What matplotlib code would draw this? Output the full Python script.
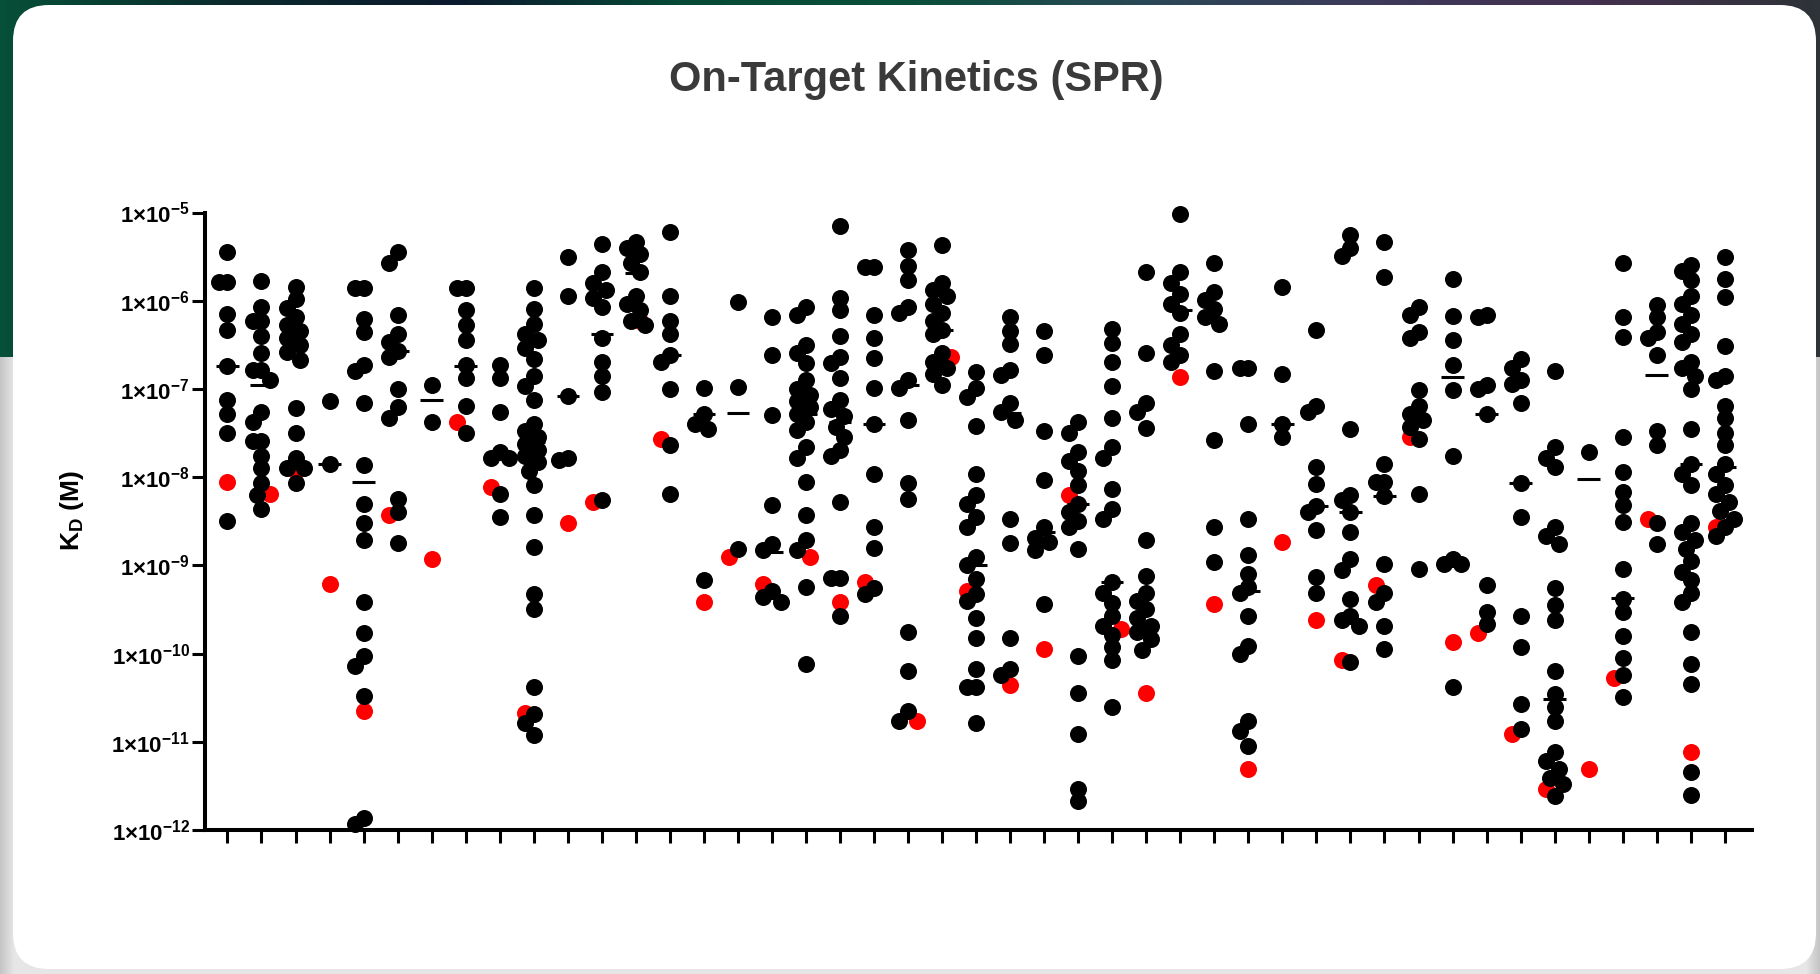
#!/usr/bin/env python3

from __future__ import annotations

import matplotlib

matplotlib.use("Agg")
import matplotlib.pyplot as plt
import numpy as np
from matplotlib.colors import LinearSegmentedColormap
from matplotlib.patches import FancyBboxPatch, Rectangle
from matplotlib.ticker import FixedLocator, FuncFormatter, NullLocator

TITLE = "On-Target Kinetics (SPR)"
Y_LABEL = r"K$_{\mathregular{D}}$ (M)"
Y_DECADES = list(range(-12, -4))

# log10(KD / M) for every compound column (black = test set)
BLACK_LOG_KD = [
    [-5.45, -5.79, -5.79, -6.15, -6.33, -6.74, -7.12, -7.28, -7.50, -8.50],
    [-5.78, -6.07, -6.23, -6.23, -6.40, -6.59, -6.78, -6.78, -6.90, -7.26, -7.38, -7.59, -7.59,
     -7.76, -7.90, -8.07, -8.20, -8.36],
    [-5.84, -5.98, -6.08, -6.19, -6.28, -6.34, -6.42, -6.50, -6.58, -6.67, -7.22, -7.50, -7.78,
     -7.90, -7.90, -8.07],
    [-7.14, -7.85],
    [-5.86, -5.86, -6.21, -6.35, -6.73, -6.80, -7.16, -7.86, -8.31, -8.52, -8.71, -9.41, -9.77,
     -10.03, -10.14, -10.48, -11.86, -11.93],
    [-5.45, -5.57, -6.16, -6.38, -6.47, -6.57, -6.64, -7.00, -7.21, -7.33, -8.25, -8.39, -8.75],
    [-6.95, -7.38],
    [-5.86, -5.86, -6.11, -6.28, -6.45, -6.73, -6.88, -7.19, -7.50],
    [-6.73, -6.88, -7.26, -7.71, -7.78, -7.78, -8.19, -8.45],
    [-5.86, -6.09, -6.26, -6.38, -6.45, -6.54, -6.66, -6.85, -6.97, -7.12, -7.40, -7.48, -7.55,
     -7.62, -7.69, -7.76, -7.83, -7.93, -8.09, -8.43, -8.79, -9.32, -9.49, -10.38, -10.69,
     -10.79, -10.92],
    [-5.51, -5.95, -7.08, -7.78, -7.80],
    [-5.36, -5.68, -5.80, -5.88, -5.97, -6.07, -6.42, -6.69, -6.85, -7.04, -8.26],
    [-5.33, -5.40, -5.47, -5.57, -5.68, -5.95, -6.04, -6.11, -6.23, -6.28],
    [-5.22, -5.95, -6.23, -6.38, -6.61, -6.69, -7.00, -7.64, -8.19],
    [-6.99, -7.28, -7.40, -7.45, -9.17],
    [-6.01, -6.98, -8.81],
    [-6.19, -6.61, -7.29, -8.32, -8.76, -8.83, -9.29, -9.36, -9.41],
    [-6.07, -6.16, -6.50, -6.59, -6.71, -6.90, -7.00, -7.07, -7.14, -7.21, -7.28, -7.38, -7.47,
     -7.66, -7.78, -8.05, -8.43, -8.71, -8.83, -9.25, -10.12],
    [-5.15, -5.97, -6.11, -6.40, -6.64, -6.71, -6.88, -7.12, -7.23, -7.31, -7.43, -7.54, -7.69,
     -7.76, -8.28, -9.14, -9.14, -9.57],
    [-5.62, -5.62, -6.16, -6.42, -6.65, -6.99, -7.40, -7.97, -8.56, -8.80, -9.26, -9.32],
    [-5.42, -5.61, -5.76, -6.07, -6.14, -6.90, -6.99, -7.35, -8.07, -8.25, -9.75, -10.20, -10.65,
     -10.77],
    [-5.37, -5.80, -5.88, -5.95, -6.04, -6.14, -6.23, -6.33, -6.38, -6.59, -6.69, -6.76, -6.83,
     -6.95],
    [-6.81, -6.99, -7.09, -7.42, -7.96, -8.20, -8.31, -8.45, -8.57, -8.91, -9.00, -9.15, -9.33,
     -9.40, -9.60, -9.82, -10.18, -10.38, -10.38, -10.79],
    [-6.18, -6.34, -6.49, -6.78, -6.84, -7.16, -7.26, -7.35, -8.48, -8.75, -9.82, -10.17, -10.24],
    [-6.34, -6.61, -7.48, -8.03, -8.57, -8.69, -8.74, -8.83, -9.44],
    [-7.38, -7.50, -7.72, -7.82, -7.93, -8.09, -8.31, -8.40, -8.50, -8.57, -8.82, -10.03, -10.45,
     -10.91, -11.53, -11.67],
    [-6.32, -6.48, -6.69, -6.97, -7.33, -7.66, -7.78, -8.14, -8.36, -8.48, -9.19, -9.31, -9.43,
     -9.57, -9.69, -9.79, -9.93, -10.07, -10.60],
    [-5.67, -6.59, -7.16, -7.26, -7.44, -8.71, -9.12, -9.31, -9.40, -9.50, -9.60, -9.69, -9.76,
     -9.84, -9.96],
    [-5.02, -5.68, -5.80, -5.92, -6.04, -6.14, -6.38, -6.50, -6.61, -6.69],
    [-5.57, -5.90, -5.99, -6.09, -6.19, -6.26, -6.80, -7.58, -8.56, -8.96],
    [-6.76, -6.76, -7.40, -8.47, -8.88, -9.10, -9.24, -9.31, -9.57, -9.91, -10.00, -10.77, -10.88,
     -11.05],
    [-5.84, -6.83, -7.40, -7.54],
    [-6.33, -7.19, -7.26, -7.89, -8.08, -8.33, -8.40, -8.60, -9.13, -9.31],
    [-5.26, -5.40, -5.49, -7.45, -8.20, -8.26, -8.39, -8.62, -8.93, -9.05, -9.38, -9.57, -9.62,
     -9.69, -10.10],
    [-5.33, -5.73, -7.85, -8.05, -8.05, -8.21, -8.98, -9.31, -9.42, -9.69, -9.95],
    [-6.07, -6.16, -6.35, -6.42, -7.01, -7.19, -7.28, -7.35, -7.43, -7.57, -8.19, -9.04],
    [-5.75, -6.17, -6.44, -6.73, -7.01, -7.76, -8.93, -8.98, -8.98, -10.38],
    [-6.16, -6.19, -6.95, -7.00, -7.28, -9.22, -9.53, -9.67],
    [-6.66, -6.76, -6.90, -6.94, -7.16, -8.07, -8.45, -9.57, -9.93, -10.57, -10.86],
    [-6.80, -7.66, -7.78, -7.89, -8.57, -8.67, -8.76, -9.26, -9.45, -9.62, -10.20, -10.46, -10.60,
     -10.77, -11.12, -11.22, -11.31, -11.41, -11.48, -11.62],
    [-7.72],
    [-5.57, -6.19, -6.41, -7.55, -7.94, -8.17, -8.32, -8.51, -9.04, -9.38, -9.53, -9.80, -10.05,
     -10.24, -10.49],
    [-6.05, -6.19, -6.35, -6.42, -6.61, -7.48, -7.64, -8.52, -8.76],
    [-5.59, -5.66, -5.76, -5.95, -6.04, -6.16, -6.26, -6.38, -6.47, -6.69, -6.76, -6.85, -7.00,
     -7.45, -7.85, -7.97, -8.09, -8.52, -8.62, -8.71, -8.81, -8.95, -9.07, -9.17, -9.31, -9.41,
     -9.76, -10.12, -10.34, -11.34, -11.60],
    [-5.51, -5.75, -5.96, -6.51, -6.85, -6.90, -7.19, -7.33, -7.50, -7.64, -7.85, -7.97, -8.09,
     -8.19, -8.28, -8.38, -8.47, -8.57, -8.67],
]

# one red reference point per column
RED_LOG_KD = [
    -8.06, -8.19, -7.93, -9.21, -10.65, -8.43, -8.93, -7.38, -8.11, -10.67,
    -8.52, -8.28, -6.23, -7.57, -9.41, -8.90, -9.21, -8.91, -9.42, -9.19,
    -10.77, -6.64, -9.29, -10.36, -9.95, -8.20, -9.72, -10.45, -6.86, -9.44,
    -11.31, -8.74, -9.62, -10.07, -9.22, -7.54, -9.87, -9.77, -10.91, -11.53,
    -11.31, -10.28, -8.48, -11.12, -8.56,
]

# median bar per column
MEDIAN_LOG_KD = [
    -6.74, -6.95, -6.50, -7.85, -8.06, -6.57, -7.12, -6.74, -7.72, -7.60,
    -7.08, -6.38, -5.69, -6.61, -7.28, -7.27, -8.85, -7.28, -7.38, -7.40,
    -6.95, -6.33, -9.00, -7.27, -8.62, -8.31, -9.19, -9.67, -6.11, -6.22,
    -9.29, -7.40, -8.33, -8.39, -8.21, -7.33, -6.87, -7.28, -8.07, -10.51,
    -8.02, -9.37, -6.84, -7.85, -7.89,
]

DOT_SIZE = 150
DOT_X = 0.5      # dot diameter in column units
DOT_Y = 0.193    # dot diameter in decades


def swarm_offsets(values, placed, step=0.13, min_gap=0.72):
    offsets = []
    for value in values:
        best, best_gap = 0.0, -1.0
        for k in (0, -1, 1, -2, 2):
            dx = k * step
            gap = min(
                (np.hypot((dx - px) / DOT_X, (value - py) / DOT_Y) for px, py in placed),
                default=np.inf,
            )
            if gap >= min_gap:
                best = dx
                break
            if gap > best_gap:
                best, best_gap = dx, gap
        placed.append((best, value))
        offsets.append(best)
    return offsets


plt.rcParams["font.family"] = ["Liberation Sans", "DejaVu Sans"]
plt.rcParams["mathtext.fontset"] = "custom"
plt.rcParams["mathtext.rm"] = "Liberation Sans:bold"
plt.rcParams["mathtext.it"] = "Liberation Sans:bold"
plt.rcParams["mathtext.bf"] = "Liberation Sans:bold"

fig = plt.figure(figsize=(18.2, 9.74), dpi=100)

# page background and white card
bg = fig.add_axes([0, 0, 1, 1])
bg.set_axis_off()
bg.set_xlim(0, 1820)
bg.set_ylim(974, 0)
band = LinearSegmentedColormap.from_list(
    "band",
    ["#064f38", "#0b2a2c", "#0c1a2e", "#064a36", "#0a4f3a", "#2a4856", "#3c3a5a", "#45304f", "#2e3338"],
)
bg.imshow(np.linspace(0, 1, 256)[None, :], cmap=band, aspect="auto", extent=[0, 1820, 357, 0], zorder=0)
shade = LinearSegmentedColormap.from_list("shade", ["#c4c4c4", "#e6e6e6"])
bg.imshow(np.linspace(0, 1, 64)[None, :], cmap=shade, aspect="auto", extent=[0, 14, 974, 357], zorder=0)
bg.imshow(np.linspace(1, 0, 64)[None, :], cmap=shade, aspect="auto", extent=[1806, 1820, 974, 357], zorder=0)
bg.add_patch(Rectangle((14, 357), 1792, 617, color="#e6e6e6", zorder=0))
bg.add_patch(
    FancyBboxPatch((13, 5), 1803, 964, boxstyle="round,pad=0,rounding_size=36",
                   facecolor="white", edgecolor="none", zorder=1)
)

fig.text(916 / 1820, 1 - 80 / 974, TITLE, ha="center", va="center",
         fontsize=30, fontweight="bold", color="#3a3a3a")

ax = fig.add_axes([205 / 1820, 144 / 974, 1547 / 1820, 617.5 / 974])
ax.patch.set_alpha(0)

black_x, black_y, red_x, red_y = [], [], [], []
for column, (black, red) in enumerate(zip(BLACK_LOG_KD, RED_LOG_KD)):
    placed = []
    black_x += [column + dx for dx in swarm_offsets(black, placed)]
    black_y += black
    red_x += [column + dx for dx in swarm_offsets([red], placed)]
    red_y.append(red)

ax.scatter(red_x, np.power(10.0, red_y), s=DOT_SIZE, color="#ff0000", linewidths=0,
           zorder=2, clip_on=False)
ax.scatter(black_x, np.power(10.0, black_y), s=DOT_SIZE, color="black", linewidths=0,
           zorder=3, clip_on=False)
columns = np.arange(len(MEDIAN_LOG_KD))
ax.hlines(np.power(10.0, MEDIAN_LOG_KD), columns - 0.33, columns + 0.33,
          color="black", linewidth=2.2, zorder=4)

ax.set_yscale("log")
ax.set_ylim(1e-12, 1e-5)
ax.set_xlim(-0.66, len(BLACK_LOG_KD) - 0.2)
ax.yaxis.set_major_locator(FixedLocator([10.0**d for d in Y_DECADES]))
ax.yaxis.set_major_formatter(FuncFormatter(lambda v, _: rf"$1×10^{{{int(round(np.log10(v)))}}}$"))
ax.yaxis.set_minor_locator(NullLocator())
ax.set_xticks(columns)
ax.set_xticklabels([])
for side in ("top", "right"):
    ax.spines[side].set_visible(False)
for side in ("left", "bottom"):
    ax.spines[side].set_linewidth(2.9)
ax.tick_params(axis="both", which="major", length=9.5, width=2.2, direction="out")
ax.tick_params(axis="y", labelsize=16, pad=1.5)
ax.set_ylabel(Y_LABEL, fontsize=19, fontweight="bold")
ax.yaxis.label.set_va("center")
ax.yaxis.set_label_coords(-0.0857, 0.518)

fig.savefig("out.png", dpi=100)
